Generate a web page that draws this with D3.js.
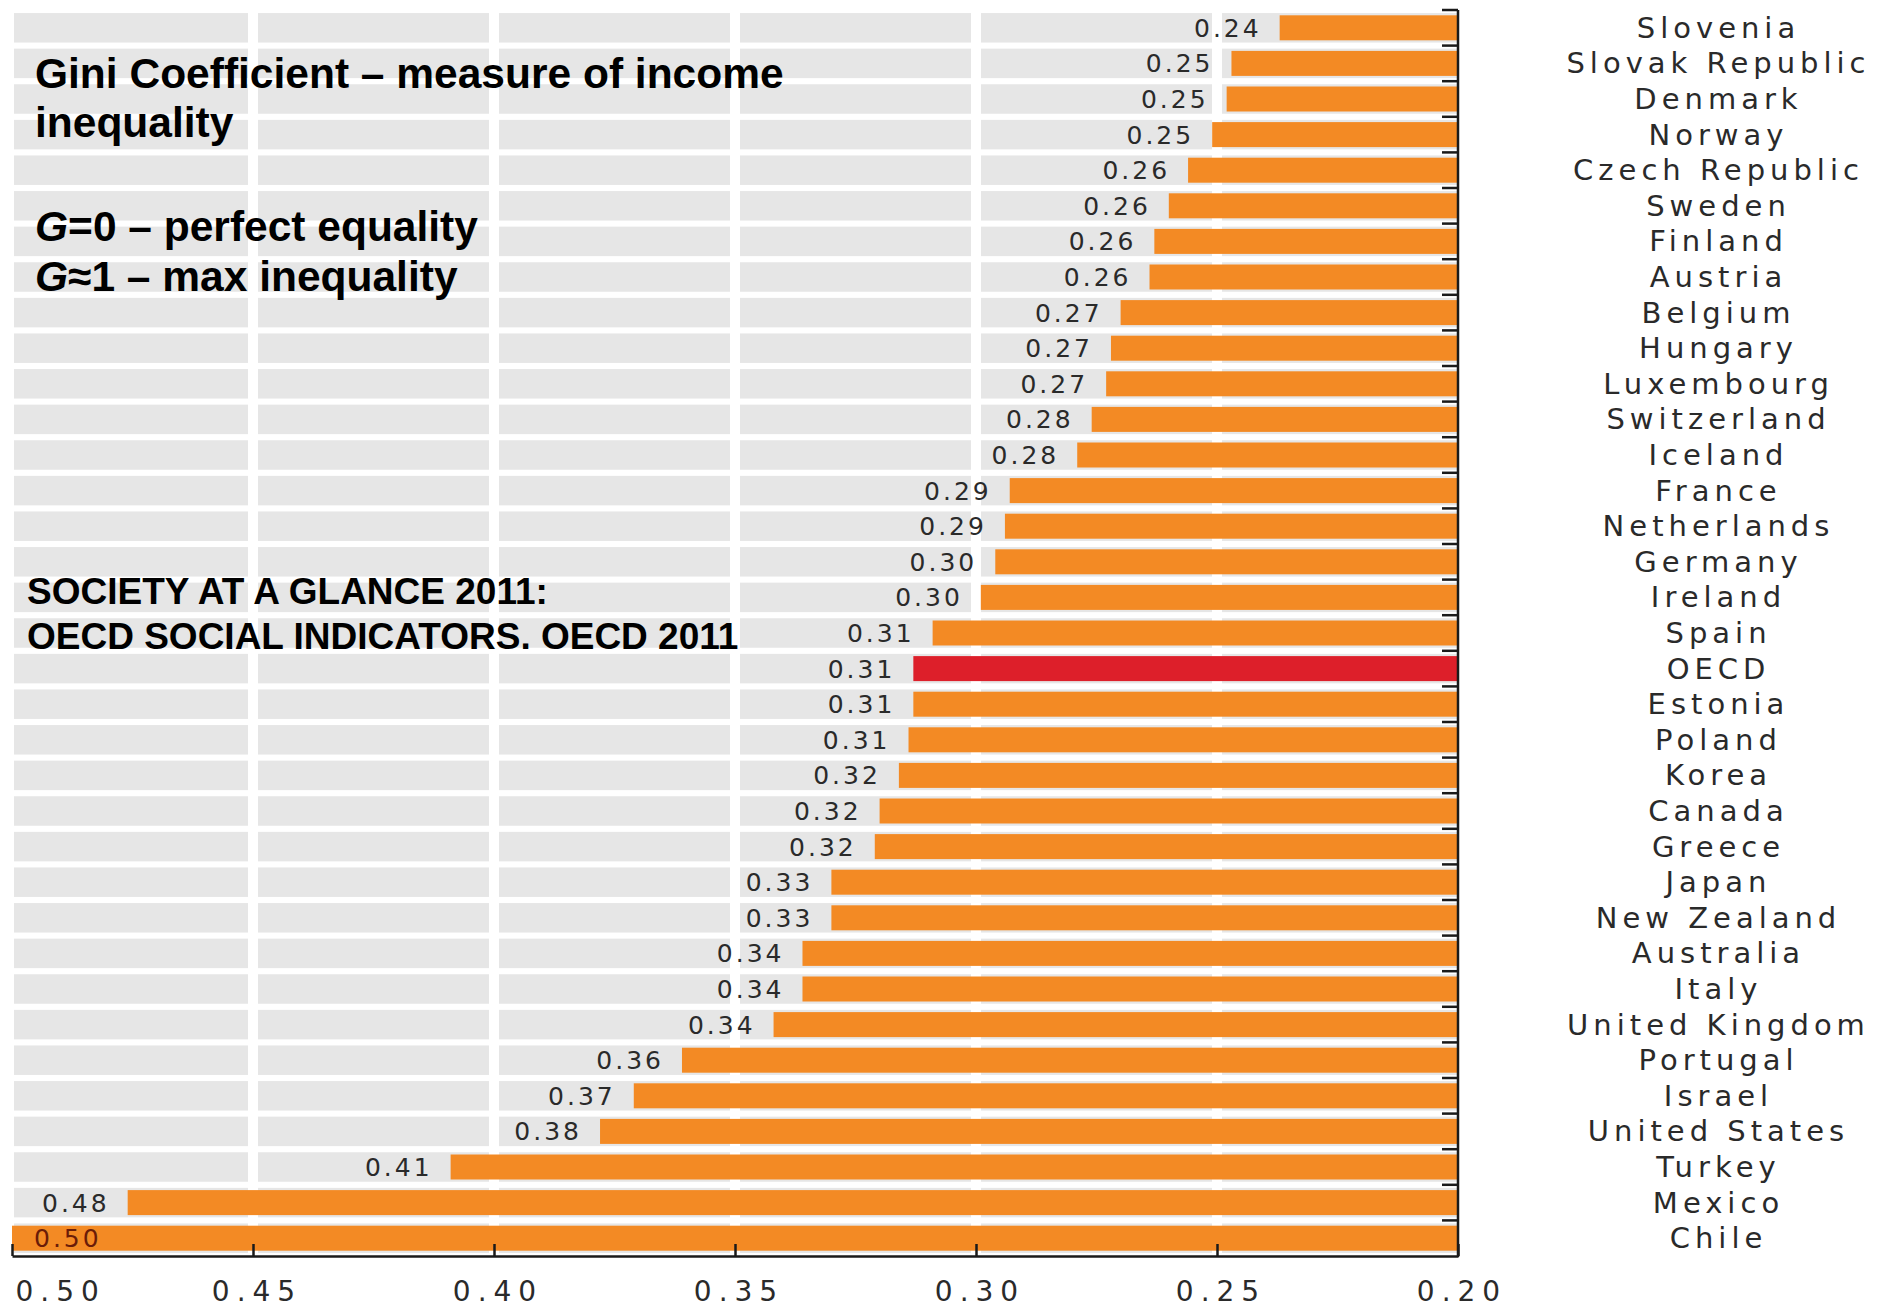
<!DOCTYPE html>
<html>
<head>
<meta charset="utf-8">
<script src="https://cdn.jsdelivr.net/npm/d3@7"></script>
<style>
  html, body { margin: 0; padding: 0; background: #ffffff; }
  svg { display: block; }
</style>
</head>
<body>
<svg id="chart" width="1879" height="1307"></svg>
<script>
// Gini coefficient by country (OECD, late 2000s), ordered as plotted top to bottom
const countries = [
  "Slovenia", "Slovak Republic", "Denmark", "Norway", "Czech Republic", "Sweden",
  "Finland", "Austria", "Belgium", "Hungary", "Luxembourg", "Switzerland", "Iceland",
  "France", "Netherlands", "Germany", "Ireland", "Spain", "OECD", "Estonia", "Poland",
  "Korea", "Canada", "Greece", "Japan", "New Zealand", "Australia", "Italy",
  "United Kingdom", "Portugal", "Israel", "United States", "Turkey", "Mexico", "Chile"
];
const gini = [
  0.237, 0.247, 0.248, 0.251, 0.256, 0.260,
  0.263, 0.264, 0.270, 0.272, 0.273, 0.276, 0.279,
  0.293, 0.294, 0.296, 0.299, 0.309, 0.313, 0.313, 0.314,
  0.316, 0.320, 0.321, 0.330, 0.330, 0.336, 0.336,
  0.342, 0.361, 0.371, 0.378, 0.409, 0.476, 0.500
];
const highlighted = ["OECD"];
const xTickValues = [0.50, 0.45, 0.40, 0.35, 0.30, 0.25, 0.20];
const gridValues = [0.45, 0.40, 0.35, 0.30, 0.25];

const rows = countries.map((c, i) => ({ country: c, value: gini[i] }));

const svg = d3.select("#chart");

// Reversed axis: larger coefficients to the left, bars grow leftwards from 0.20
const x = d3.scaleLinear().domain([0.50, 0.20]).range([12, 1458]);
const y = d3.scaleBand().domain(countries).range([10, 1256]).padding(0);

const step = y.step();
const greyH = 29.5;
const barH = 25;

const COLORS = {
  band: "#e6e6e6",
  bar: "#f38a24",
  highlight: "#dd1f2a",
  axis: "#1a1a1a",
  text: "#2a2a2a",
  insideLabel: "#6a1c08"
};

// Light grey row bands
svg.append("g")
  .selectAll("rect")
  .data(rows)
  .join("rect")
  .attr("x", x(0.50) + 2)
  .attr("y", d => y(d.country) + (step - greyH) / 2)
  .attr("width", x(0.20) - x(0.50) - 2)
  .attr("height", greyH)
  .attr("fill", COLORS.band);

// White vertical gridlines cutting through the bands
svg.append("g")
  .selectAll("rect")
  .data(gridValues)
  .join("rect")
  .attr("x", d => x(d) - 5)
  .attr("y", 10)
  .attr("width", 10)
  .attr("height", 1246)
  .attr("fill", "#ffffff");

// Bars
svg.append("g")
  .selectAll("rect")
  .data(rows)
  .join("rect")
  .attr("x", d => x(d.value))
  .attr("y", d => y(d.country) + (step - barH) / 2)
  .attr("width", d => x(0.20) - x(d.value))
  .attr("height", barH)
  .attr("fill", d => highlighted.includes(d.country) ? COLORS.highlight : COLORS.bar);

// Value labels, left of each bar end (inside the bar when there is no room)
const fmt = d3.format(".2f");
const valueLS = 3;
const fitsOutside = d => x(d.value) - 90 >= x(0.50);
svg.append("g")
  .selectAll("text")
  .data(rows)
  .join("text")
  .attr("x", d => fitsOutside(d) ? x(d.value) - 21 + valueLS : x(d.value) + 22)
  .attr("y", d => y(d.country) + step / 2 + 9)
  .attr("text-anchor", d => fitsOutside(d) ? "end" : "start")
  .attr("font-family", "'DejaVu Sans', sans-serif")
  .attr("font-size", 25)
  .attr("letter-spacing", valueLS)
  .attr("fill", d => fitsOutside(d) ? COLORS.text : COLORS.insideLabel)
  .text(d => fmt(d.value));

// Country names on the right
const nameLS = 5;
svg.append("g")
  .selectAll("text")
  .data(rows)
  .join("text")
  .attr("x", 1716 + nameLS / 2)
  .attr("y", d => y(d.country) + step / 2 + 10)
  .attr("text-anchor", "middle")
  .attr("font-family", "'DejaVu Sans', sans-serif")
  .attr("font-size", 29)
  .attr("letter-spacing", nameLS)
  .attr("fill", COLORS.text)
  .text(d => d.country);

// Bottom axis with inward ticks
const tickLS = 7;
const xAxis = d3.axisBottom(x)
  .tickValues(xTickValues)
  .tickFormat(d3.format(".2f"))
  .tickSize(-12)
  .tickSizeOuter(0)
  .tickPadding(25);

const gx = svg.append("g")
  .attr("transform", "translate(0,1256)")
  .call(xAxis);
gx.select(".domain").attr("stroke", COLORS.axis).attr("stroke-width", 2.5);
gx.selectAll(".tick line").attr("stroke", COLORS.axis).attr("stroke-width", 2.5);
gx.selectAll(".tick text")
  .attr("font-family", "'DejaVu Sans', sans-serif")
  .attr("font-size", 28)
  .attr("letter-spacing", tickLS)
  .attr("dx", tickLS / 2)
  .attr("fill", COLORS.text);
// the leftmost label sits inside the plot edge
gx.selectAll(".tick text")
  .filter(d => d === xTickValues[0])
  .attr("text-anchor", "start")
  .attr("dx", 3);

// Right axis line with ticks at row boundaries
const boundaries = countries.map(c => y(c));
const gy = svg.append("g");
gy.append("line")
  .attr("x1", x(0.20)).attr("x2", x(0.20))
  .attr("y1", 10).attr("y2", 1257)
  .attr("stroke", COLORS.axis).attr("stroke-width", 2.5);
gy.selectAll("line.tick")
  .data(boundaries)
  .join("line")
  .attr("class", "tick")
  .attr("x1", x(0.20) - 16).attr("x2", x(0.20))
  .attr("y1", d => d).attr("y2", d => d)
  .attr("stroke", COLORS.axis).attr("stroke-width", 2.5);

// Annotation text
const titleFont = "'Liberation Sans', Arial, Helvetica, sans-serif";
const notes = svg.append("g")
  .attr("font-family", titleFont)
  .attr("font-weight", "bold")
  .attr("fill", "#000000");

notes.append("text").attr("x", 35).attr("y", 88).attr("font-size", 42.5)
  .text("Gini Coefficient – measure of income");
notes.append("text").attr("x", 35).attr("y", 137).attr("font-size", 42.5)
  .text("inequality");

const g0 = notes.append("text").attr("x", 35).attr("y", 241).attr("font-size", 42.5);
g0.append("tspan").attr("font-style", "italic").text("G");
g0.append("tspan").text("=0 – perfect equality");

const g1 = notes.append("text").attr("x", 35).attr("y", 291).attr("font-size", 42.5);
g1.append("tspan").attr("font-style", "italic").text("G");
g1.append("tspan").text("≈1 – max inequality");

notes.append("text").attr("x", 27).attr("y", 604).attr("font-size", 37)
  .text("SOCIETY AT A GLANCE 2011:");
notes.append("text").attr("x", 27).attr("y", 649).attr("font-size", 37)
  .text("OECD SOCIAL INDICATORS. OECD 2011");
</script>
</body>
</html>
